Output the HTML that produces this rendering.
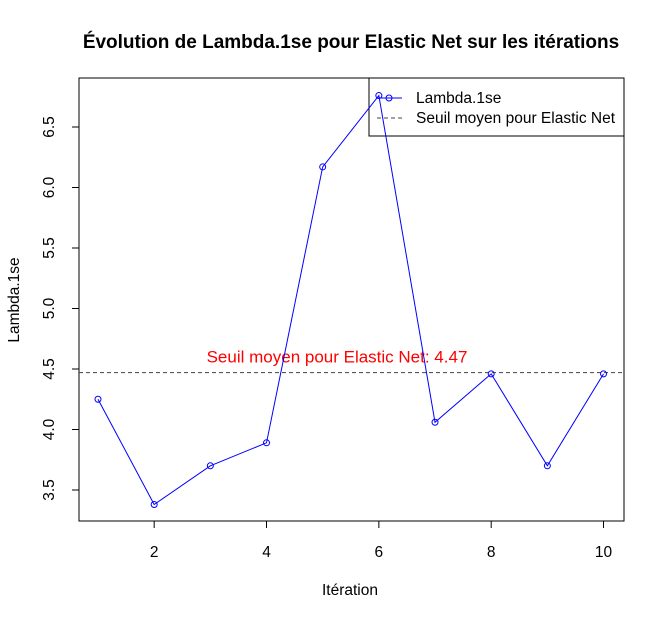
<!DOCTYPE html>
<html><head><meta charset="utf-8"><style>
body{margin:0;background:#fff}
svg text{font-family:"Liberation Sans",Arial,sans-serif}
</style></head><body>
<svg width="664" height="620" xmlns="http://www.w3.org/2000/svg">
<rect width="664" height="620" fill="#fff"/>
<text x="351" y="48" text-anchor="middle" font-weight="bold" font-size="19">Évolution de Lambda.1se pour Elastic Net sur les itérations</text>
<g>
<rect x="369" y="78" width="255" height="58" fill="#fff" stroke="#000"/>
<line x1="377" y1="98" x2="402" y2="98" stroke="#00f"/>
<circle cx="389" cy="98" r="3" fill="none" stroke="#00f"/>
<text x="416" y="103" font-size="15.5">Lambda.1se</text>
<line x1="377" y1="118" x2="402" y2="118" stroke="#444" stroke-dasharray="4,3"/>
<text x="416" y="123" font-size="15.5">Seuil moyen pour Elastic Net</text>
</g>
<rect x="79" y="78" width="545" height="443" fill="none" stroke="#000"/>
<g id="xaxis"></g>
<g id="yaxis"></g>
<text x="350" y="595" text-anchor="middle" font-size="15.5">Itération</text>
<text transform="translate(19,300) rotate(-90)" text-anchor="middle" font-size="15.5">Lambda.1se</text>
<g id="marks"></g>
</svg>
<script>
const iterations=[1,2,3,4,5,6,7,8,9,10];
const lambdaValues=[4.25,3.38,3.70,3.89,6.17,6.76,4.06,4.46,3.70,4.46];
const seuil=4.47;
const xTicks=[2,4,6,8,10];
const yTicks=[3.5,4.0,4.5,5.0,5.5,6.0,6.5];
const ns="http://www.w3.org/2000/svg";
function X(v){return 98+(v-1)*56.17;}
function Y(v){return 369-(v-4.5)*121;}
function mk(t,a,p){const e=document.createElementNS(ns,t);for(const k in a)e.setAttribute(k,a[k]);p.appendChild(e);return e;}
const xa=document.getElementById('xaxis'),ya=document.getElementById('yaxis'),m=document.getElementById('marks');
mk('line',{x1:X(2),x2:X(10),y1:521,y2:521,stroke:'#000'},xa);
xTicks.forEach(t=>{mk('line',{x1:X(t),x2:X(t),y1:521,y2:528,stroke:'#000'},xa);
const tx=mk('text',{x:X(t),y:557,'text-anchor':'middle','font-size':15.5},xa);tx.textContent=t;

});
mk('line',{x1:79,x2:79,y1:Y(3.5),y2:Y(6.5),stroke:'#000'},ya);
yTicks.forEach(t=>{mk('line',{x1:72,x2:79,y1:Y(t),y2:Y(t),stroke:'#000'},ya);
const tx=mk('text',{transform:`translate(54,${Y(t)}) rotate(-90)`,'text-anchor':'middle','font-size':15.5},ya);tx.textContent=t.toFixed(1);

});
const sl=mk('line',{x1:79,x2:624,y1:Y(seuil),y2:Y(seuil),stroke:'#444','stroke-dasharray':'4,3'},m);


const lab=mk('text',{x:337,y:Y(seuil)-10,'text-anchor':'middle','font-size':17,fill:'#f00'},m);
lab.textContent='Seuil moyen pour Elastic Net: '+seuil.toFixed(2);


const pl=mk('polyline',{points:iterations.map((d,i)=>X(d)+','+Y(lambdaValues[i])).join(' '),fill:'none',stroke:'#00f'},m);


iterations.forEach((d,i)=>{const c=mk('circle',{cx:X(d),cy:Y(lambdaValues[i]),r:3,fill:'none',stroke:'#00f'},m);

});
</script>
</body></html>
